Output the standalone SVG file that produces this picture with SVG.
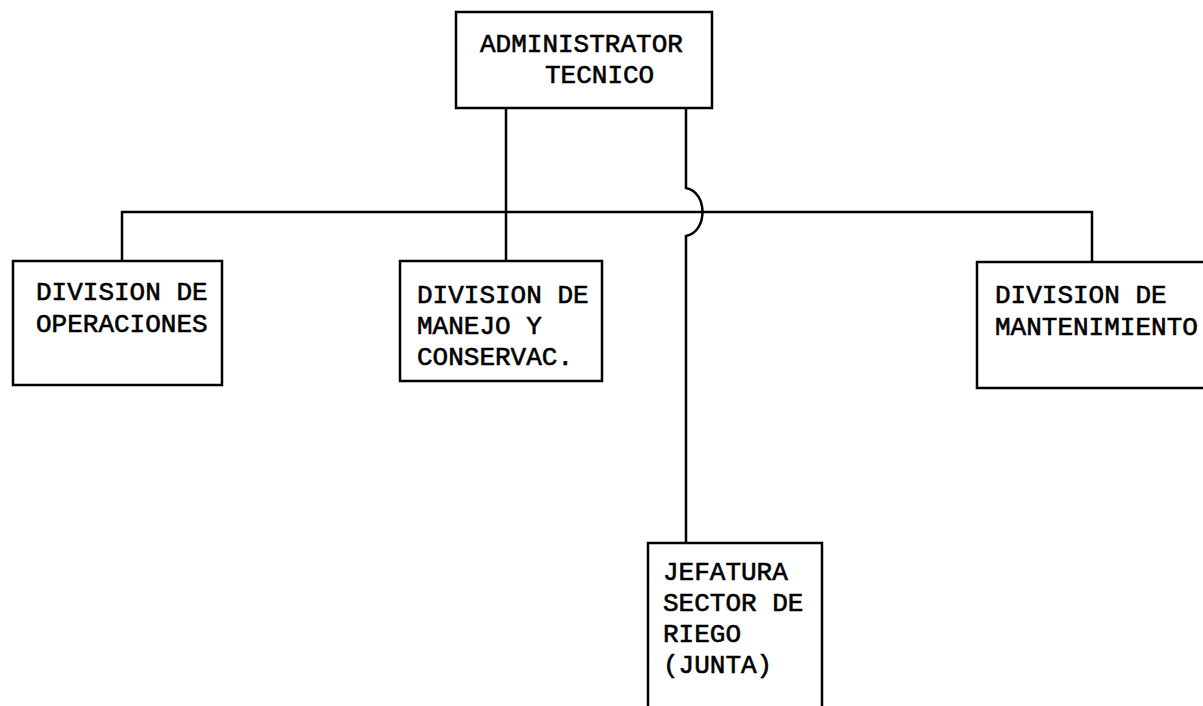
<svg xmlns="http://www.w3.org/2000/svg" width="1203" height="706" viewBox="0 0 1203 706">
<style>
.box{fill:none;stroke:#000;stroke-width:2.5;stroke-linejoin:miter}
.ln{fill:none;stroke:#000;stroke-width:2.5}
.t{font-family:"Liberation Mono","Courier New",monospace;font-size:26px;fill:#000;stroke:#000;stroke-width:0.6}
</style>
<rect width="1203" height="706" fill="#fff"/>
<g id="connectors">
<path class="ln" d="M122,261 V212 H1092 V262"/>
<path class="ln" d="M506,108 V261"/>
<path class="ln" d="M686,108 V188 C708,192 708,232 686,236 V543"/>
</g>
<g id="admin">
<rect class="box" x="456" y="12" width="256" height="96"/>
<text class="t" x="480" y="52">ADMINISTRATOR</text>
<text class="t" x="545" y="83">TECNICO</text>
</g>
<g id="operaciones">
<rect class="box" x="13" y="261" width="209" height="124"/>
<text class="t" x="36" y="300">DIVISION DE</text>
<text class="t" x="36" y="332">OPERACIONES</text>
</g>
<g id="manejo">
<rect class="box" x="400" y="261" width="202" height="120"/>
<text class="t" x="417" y="303">DIVISION DE</text>
<text class="t" x="417" y="334">MANEJO Y</text>
<text class="t" x="417" y="365">CONSERVAC.</text>
</g>
<g id="mantenimiento">
<path class="box" d="M1206,262 H977 V388 H1206"/>
<text class="t" x="995" y="303">DIVISION DE</text>
<text class="t" x="995" y="335">MANTENIMIENTO</text>
</g>
<g id="jefatura">
<path class="box" d="M648,710 V543 H822 V710"/>
<text class="t" x="663" y="580">JEFATURA</text>
<text class="t" x="663" y="611">SECTOR DE</text>
<text class="t" x="663" y="642">RIEGO</text>
<text class="t" x="663" y="673">(JUNTA)</text>
</g>
</svg>
